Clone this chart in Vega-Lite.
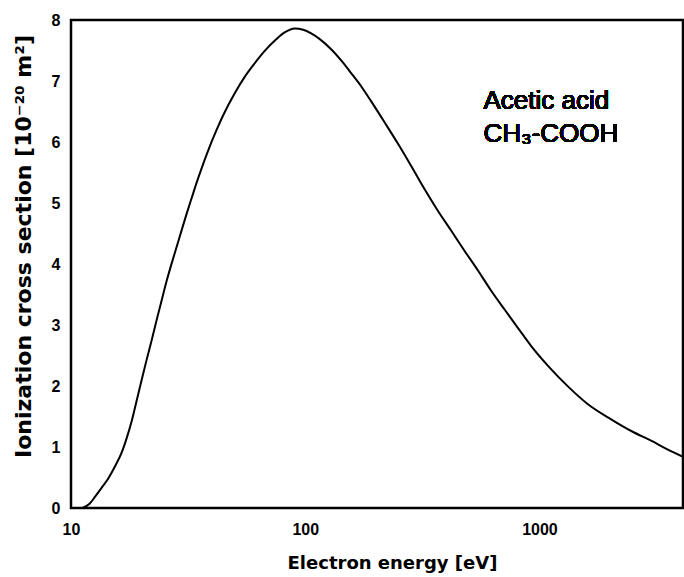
{
  "$schema": "https://vega.github.io/schema/vega-lite/v6.json",
  "width": 612,
  "height": 488,
  "autosize": "none",
  "padding": {"left": 71, "top": 20, "right": 1, "bottom": 69},
  "background": "white",
  "config": {
    "view": {"stroke": "black", "strokeWidth": 2.5},
    "axis": {
      "domain": false,
      "ticks": false,
      "labelFont": "Liberation Sans",
      "labelFontWeight": "bold",
      "labelFontSize": 16,
      "labelColor": "black",
      "titleFont": "DejaVu Sans",
      "titleFontWeight": "bold",
      "titleColor": "black",
      "grid": false
    }
  },
  "datasets": {
    "curve": [
      {"E": 11.2, "sigma": 0.0},
      {"E": 12.0, "sigma": 0.07},
      {"E": 12.7, "sigma": 0.19},
      {"E": 13.5, "sigma": 0.33},
      {"E": 14.4, "sigma": 0.48},
      {"E": 15.4, "sigma": 0.68},
      {"E": 16.5, "sigma": 0.92},
      {"E": 17.3, "sigma": 1.15},
      {"E": 18.2, "sigma": 1.44},
      {"E": 19.1, "sigma": 1.77},
      {"E": 20.0, "sigma": 2.09},
      {"E": 21.0, "sigma": 2.42},
      {"E": 22.1, "sigma": 2.75},
      {"E": 23.2, "sigma": 3.08},
      {"E": 24.4, "sigma": 3.41},
      {"E": 25.6, "sigma": 3.72},
      {"E": 26.9, "sigma": 4.01},
      {"E": 28.3, "sigma": 4.29},
      {"E": 29.7, "sigma": 4.56},
      {"E": 31.2, "sigma": 4.83},
      {"E": 32.8, "sigma": 5.09},
      {"E": 34.5, "sigma": 5.35},
      {"E": 36.2, "sigma": 5.58},
      {"E": 38.0, "sigma": 5.8},
      {"E": 39.9, "sigma": 6.01},
      {"E": 42.3, "sigma": 6.24},
      {"E": 44.8, "sigma": 6.45},
      {"E": 50.0, "sigma": 6.8},
      {"E": 55.0, "sigma": 7.06},
      {"E": 60.0, "sigma": 7.26},
      {"E": 67.0, "sigma": 7.49},
      {"E": 75.0, "sigma": 7.68},
      {"E": 82.0, "sigma": 7.8},
      {"E": 90.0, "sigma": 7.86},
      {"E": 98.0, "sigma": 7.84},
      {"E": 106, "sigma": 7.78},
      {"E": 115, "sigma": 7.69},
      {"E": 129, "sigma": 7.52},
      {"E": 145, "sigma": 7.3},
      {"E": 157, "sigma": 7.13},
      {"E": 175, "sigma": 6.89},
      {"E": 191, "sigma": 6.67},
      {"E": 220, "sigma": 6.3},
      {"E": 249, "sigma": 5.97},
      {"E": 285, "sigma": 5.59},
      {"E": 324, "sigma": 5.22},
      {"E": 370, "sigma": 4.86},
      {"E": 421, "sigma": 4.54},
      {"E": 480, "sigma": 4.21},
      {"E": 547, "sigma": 3.89},
      {"E": 620, "sigma": 3.57},
      {"E": 711, "sigma": 3.25},
      {"E": 810, "sigma": 2.95},
      {"E": 924, "sigma": 2.65},
      {"E": 1100, "sigma": 2.31},
      {"E": 1326, "sigma": 1.99},
      {"E": 1600, "sigma": 1.71},
      {"E": 2031, "sigma": 1.45},
      {"E": 2500, "sigma": 1.25},
      {"E": 3010, "sigma": 1.1},
      {"E": 3500, "sigma": 0.965},
      {"E": 4100, "sigma": 0.84}
    ],
    "yMajor": [{"v": 1}, {"v": 2}, {"v": 3}, {"v": 4}, {"v": 5}, {"v": 6}, {"v": 7}],
    "yMinor": [
      {"v": 0.2}, {"v": 0.4}, {"v": 0.6}, {"v": 0.8},
      {"v": 1.2}, {"v": 1.4}, {"v": 1.6}, {"v": 1.8},
      {"v": 2.2}, {"v": 2.4}, {"v": 2.6}, {"v": 2.8},
      {"v": 3.2}, {"v": 3.4}, {"v": 3.6}, {"v": 3.8},
      {"v": 4.2}, {"v": 4.4}, {"v": 4.6}, {"v": 4.8},
      {"v": 5.2}, {"v": 5.4}, {"v": 5.6}, {"v": 5.8},
      {"v": 6.2}, {"v": 6.4}, {"v": 6.6}, {"v": 6.8},
      {"v": 7.2}, {"v": 7.4}, {"v": 7.6}, {"v": 7.8}
    ],
    "xMajor": [{"v": 100}, {"v": 1000}],
    "xMinor": [
      {"v": 20}, {"v": 30}, {"v": 40}, {"v": 50}, {"v": 60}, {"v": 70}, {"v": 80}, {"v": 90},
      {"v": 200}, {"v": 300}, {"v": 400}, {"v": 500}, {"v": 600}, {"v": 700}, {"v": 800}, {"v": 900},
      {"v": 2000}, {"v": 3000}, {"v": 4000}
    ]
  },
  "layer": [
    {
      "data": {"name": "curve"},
      "mark": {"type": "line", "color": "black", "strokeWidth": 2, "interpolate": "monotone"},
      "encoding": {
        "x": {
          "field": "E", "type": "quantitative",
          "scale": {"type": "log", "domain": [10, 4100], "nice": false},
          "axis": {
            "orient": "bottom",
            "title": "Electron energy [eV]",
            "titleFontSize": 18,
            "titlePadding": 17,
            "titleX": 321,
            "values": [10, 100, 1000],
            "format": "d",
            "labelPadding": 13,
            "labelFlush": false,
            "labelOverlap": false
          }
        },
        "y": {
          "field": "sigma", "type": "quantitative",
          "scale": {"domain": [0, 8], "nice": false, "zero": true},
          "axis": {
            "orient": "left",
            "title": "Ionization cross section [10⁻²⁰ m²]",
            "titleFontSize": 22,
            "titlePadding": 16,
            "titleY": 226,
            "values": [0, 1, 2, 3, 4, 5, 6, 7, 8],
            "format": "d",
            "labelPadding": 11,
            "labelFlush": false,
            "labelOverlap": false
          }
        }
      }
    },
    {
      "data": {"name": "yMajor"},
      "mark": {"type": "tick", "orient": "vertical", "color": "black", "size": 18, "thickness": 2, "clip": true},
      "encoding": {
        "x": {"datum": 10, "type": "quantitative", "axis": null},
        "y": {"field": "v", "type": "quantitative", "axis": null}
      }
    },
    {
      "data": {"name": "yMinor"},
      "mark": {"type": "tick", "orient": "vertical", "color": "black", "size": 10, "thickness": 2, "clip": true},
      "encoding": {
        "x": {"datum": 10, "type": "quantitative", "axis": null},
        "y": {"field": "v", "type": "quantitative", "axis": null}
      }
    },
    {
      "data": {"name": "yMajor"},
      "mark": {"type": "tick", "orient": "vertical", "color": "black", "size": 8, "thickness": 2, "clip": true},
      "encoding": {
        "x": {"datum": 4100, "type": "quantitative", "axis": null},
        "y": {"field": "v", "type": "quantitative", "axis": null}
      }
    },
    {
      "data": {"name": "xMajor"},
      "mark": {"type": "tick", "orient": "horizontal", "color": "black", "size": 18, "thickness": 2, "clip": true},
      "encoding": {
        "x": {"field": "v", "type": "quantitative", "axis": null},
        "y": {"datum": 0, "type": "quantitative", "axis": null}
      }
    },
    {
      "data": {"name": "xMinor"},
      "mark": {"type": "tick", "orient": "horizontal", "color": "black", "size": 10, "thickness": 2, "clip": true},
      "encoding": {
        "x": {"field": "v", "type": "quantitative", "axis": null},
        "y": {"datum": 0, "type": "quantitative", "axis": null}
      }
    },
    {
      "data": {"name": "xMinor"},
      "mark": {"type": "tick", "orient": "horizontal", "color": "black", "size": 10, "thickness": 2, "clip": true},
      "encoding": {
        "x": {"field": "v", "type": "quantitative", "axis": null},
        "y": {"datum": 8, "type": "quantitative", "axis": null}
      }
    },
    {
      "data": {"name": "xMajor"},
      "mark": {"type": "tick", "orient": "horizontal", "color": "black", "size": 10, "thickness": 2, "clip": true},
      "encoding": {
        "x": {"field": "v", "type": "quantitative", "axis": null},
        "y": {"datum": 8, "type": "quantitative", "axis": null}
      }
    },
    {
      "data": {"name": "curve"},
      "mark": {"type": "text", "align": "left", "baseline": "alphabetic", "font": "Liberation Sans", "fontSize": 26, "color": "black", "text": "Acetic acid"},
      "encoding": {
        "x": {"datum": 577, "type": "quantitative", "axis": null},
        "y": {"datum": 6.54, "type": "quantitative", "axis": null}
      }
    },
    {
      "data": {"name": "curve"},
      "mark": {"type": "text", "align": "left", "baseline": "alphabetic", "font": "Liberation Sans", "fontSize": 26, "color": "black", "text": "CH₃-COOH"},
      "encoding": {
        "x": {"datum": 577, "type": "quantitative", "axis": null},
        "y": {"datum": 6.0, "type": "quantitative", "axis": null}
      }
    }
  ],
  "resolve": {"axis": {"x": "independent", "y": "independent"}}
}
